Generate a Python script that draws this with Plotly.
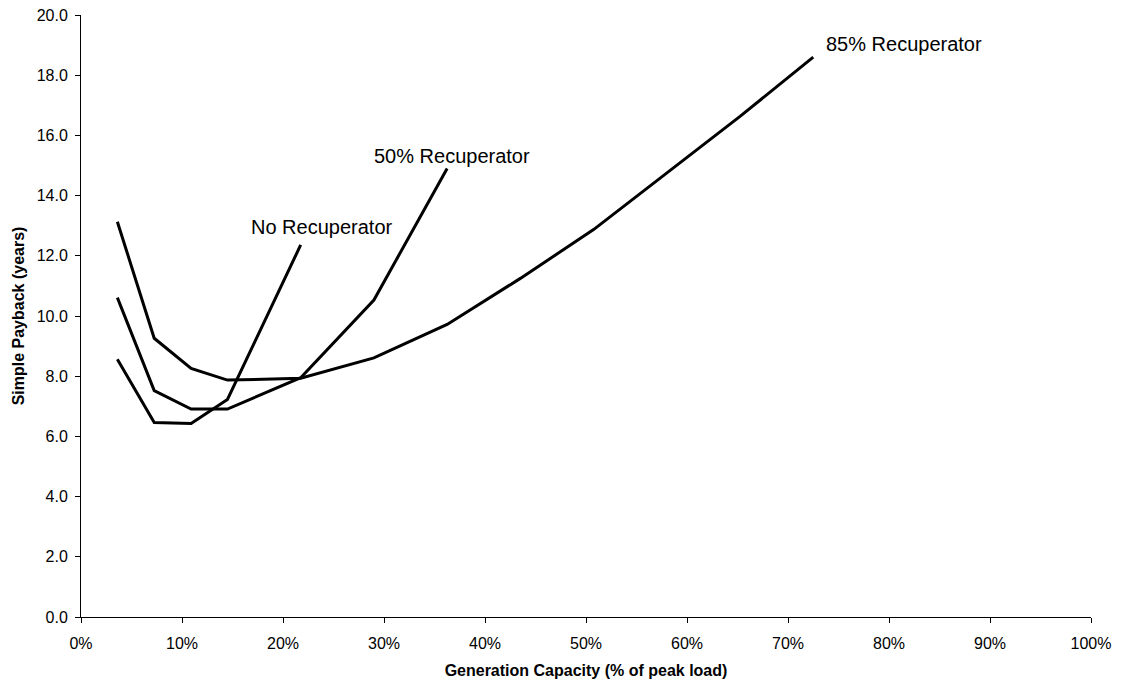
import plotly.graph_objects as go

# Generation capacity (fraction of peak load)
x_no = [0.036, 0.0725, 0.109, 0.145, 0.2175]
x_50 = [0.036, 0.0725, 0.109, 0.145, 0.2175, 0.29, 0.3625]
x_85 = [0.036, 0.0725, 0.109, 0.145, 0.2175, 0.29, 0.3625, 0.435, 0.5075, 0.58, 0.6525, 0.725]

# Simple payback (years)
y_no = [8.56, 6.46, 6.43, 7.23, 12.36]
y_50 = [10.61, 7.52, 6.91, 6.91, 7.95, 10.53, 14.9]
y_85 = [13.13, 9.26, 8.26, 7.87, 7.93, 8.61, 9.72, 11.25, 12.87, 14.74, 16.63, 18.6]

labels = ["No Recuperator", "50% Recuperator", "85% Recuperator"]
x_ticks = [0, 0.1, 0.2, 0.3, 0.4, 0.5, 0.6, 0.7, 0.8, 0.9, 1.0]
y_ticks = [0, 2, 4, 6, 8, 10, 12, 14, 16, 18, 20]

FONT = "Arial, Liberation Sans, sans-serif"

fig = go.Figure()
for xs, ys, name in [(x_no, y_no, labels[0]), (x_50, y_50, labels[1]), (x_85, y_85, labels[2])]:
    fig.add_trace(go.Scatter(x=xs, y=ys, mode="lines", name=name,
                             line=dict(color="black", width=3), showlegend=False))

ann_pos = [(0.166, 12.97), (0.288, 15.3), (0.736, 19.04)]
for (ax, ay), txt in zip(ann_pos, labels):
    fig.add_annotation(x=ax, y=ay, xref="x", yref="y", text=txt, showarrow=False,
                       xanchor="left", yanchor="middle",
                       font=dict(family=FONT, size=20, color="black"))

fig.update_layout(
    template="none",
    width=1106, height=673,
    margin=dict(l=73, r=23, t=7, b=64),
    paper_bgcolor="white", plot_bgcolor="white",
    font=dict(family=FONT, color="black"),
)
fig.update_xaxes(
    range=[0, 1.0], tickvals=x_ticks, tickformat=".0%", automargin=False,
    showgrid=False, zeroline=False, showline=True, linecolor="black", linewidth=1,
    ticks="outside", ticklen=5, tickcolor="black", ticklabelstandoff=7,
    ticklabeloverflow="allow",
    tickfont=dict(family=FONT, size=16, color="black"),
    title=dict(text="<b>Generation Capacity (% of peak load)</b>",
               font=dict(family=FONT, size=16, color="black"), standoff=13),
)
fig.update_yaxes(
    range=[0, 20], tickvals=y_ticks, tickformat=".1f", automargin=False,
    showgrid=False, zeroline=False, showline=True, linecolor="black", linewidth=1,
    ticks="outside", ticklen=5, tickcolor="black", ticklabelstandoff=4,
    ticklabeloverflow="allow",
    tickfont=dict(family=FONT, size=16, color="black"),
    title=dict(text="<b>Simple Payback (years)</b>",
               font=dict(family=FONT, size=16, color="black"), standoff=8),
)

fig.write_html("out.html")
